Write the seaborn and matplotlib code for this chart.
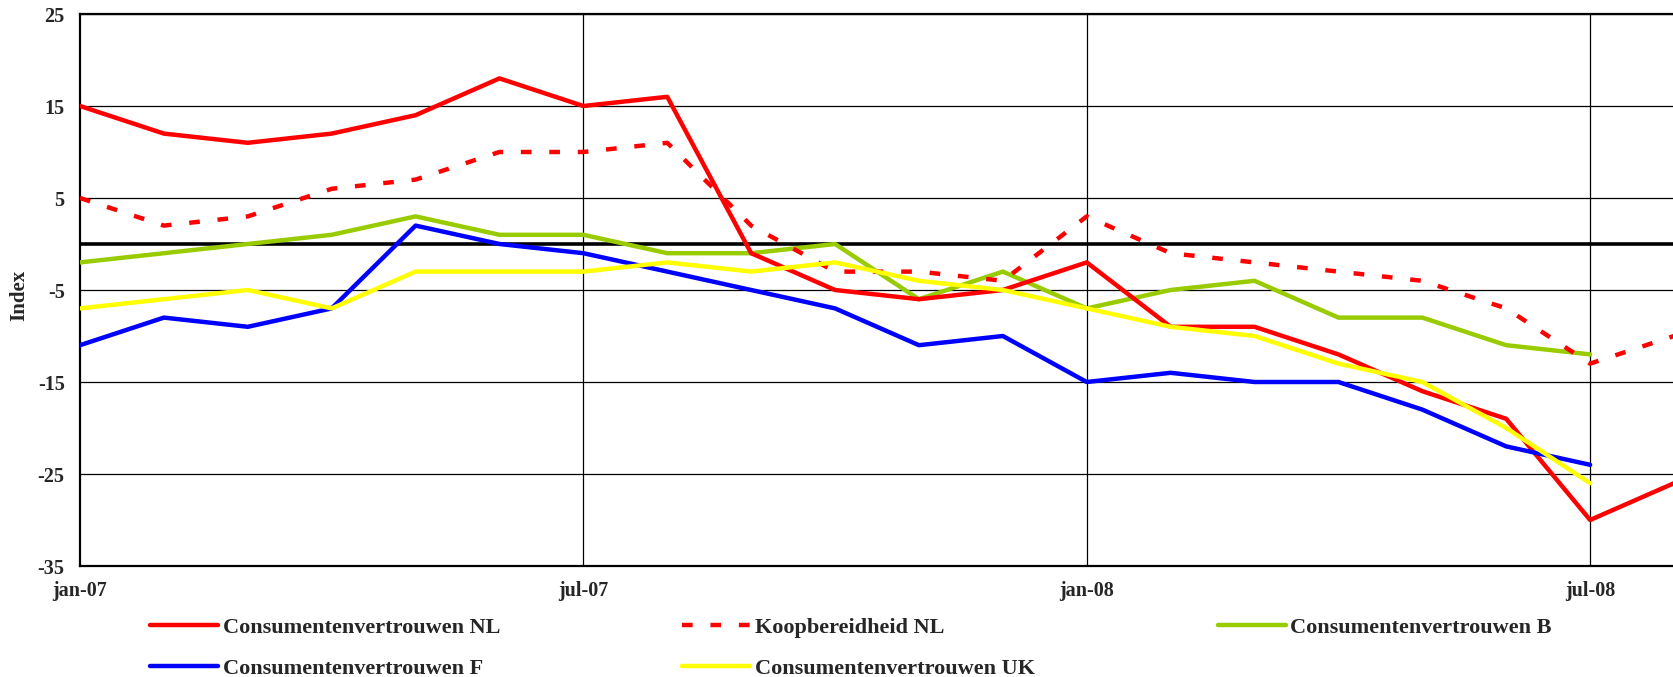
import numpy as np
import pandas as pd
import matplotlib
matplotlib.use("Agg")
import matplotlib.pyplot as plt
from matplotlib.font_manager import FontProperties
import seaborn as sns

# ---- data ----
months = ["jan-07", "feb-07", "mrt-07", "apr-07", "mei-07", "jun-07", "jul-07",
          "aug-07", "sep-07", "okt-07", "nov-07", "dec-07", "jan-08", "feb-08",
          "mrt-08", "apr-08", "mei-08", "jun-08", "jul-08", "aug-08"]
tick_labels = ["jan-07", "jul-07", "jan-08", "jul-08"]
y_ticks = [25, 15, 5, -5, -15, -25, -35]

cons_nl = [15, 12, 11, 12, 14, 18, 15, 16, -1, -5, -6, -5, -2, -9, -9, -12, -16, -19, -30, -26]
koop_nl = [5, 2, 3, 6, 7, 10, 10, 11, 2, -3, -3, -4, 3, -1, -2, -3, -4, -7, -13, -10]
cons_b = [-2, -1, 0, 1, 3, 1, 1, -1, -1, 0, -6, -3, -7, -5, -4, -8, -8, -11, -12]
cons_f = [-11, -8, -9, -7, 2, 0, -1, -3, -5, -7, -11, -10, -15, -14, -15, -15, -18, -22, -24]
cons_uk = [-7, -6, -5, -7, -3, -3, -3, -2, -3, -2, -4, -5, -7, -9, -10, -13, -15, -20, -26]

series = {
    "Consumentenvertrouwen NL": cons_nl,
    "Koopbereidheid NL": koop_nl,
    "Consumentenvertrouwen B": cons_b,
    "Consumentenvertrouwen F": cons_f,
    "Consumentenvertrouwen UK": cons_uk,
}
colors = {
    "Consumentenvertrouwen NL": "#FF0000",
    "Koopbereidheid NL": "#FF0000",
    "Consumentenvertrouwen B": "#99CC00",
    "Consumentenvertrouwen F": "#0000FF",
    "Consumentenvertrouwen UK": "#FFFF00",
}

rows = []
for name, vals in series.items():
    for i, v in enumerate(vals):
        rows.append({"t": i, "month": months[i], "value": v, "series": name})
df = pd.DataFrame(rows)

sns.set_theme(style="white")
plt.rcParams["font.family"] = ["Liberation Serif", "DejaVu Serif"]
plt.rcParams["font.weight"] = "bold"

fig = plt.figure(figsize=(16.74, 6.77), dpi=100)
ax = fig.add_axes([80 / 1674, 1 - 566 / 677, 1 - 80 / 1674, 552 / 677])

# grid
for yv in y_ticks:
    ax.axhline(yv, color="black", lw=0.9, zorder=1)
for xv in [6, 12, 18]:
    ax.axvline(xv, color="black", lw=0.9, zorder=1)
ax.axhline(0, color="black", lw=2.6, zorder=1.5)

draw_order = ["Consumentenvertrouwen B", "Koopbereidheid NL", "Consumentenvertrouwen NL",
              "Consumentenvertrouwen F", "Consumentenvertrouwen UK"]
for name in draw_order:
    sub = df[df["series"] == name]
    kw = {}
    if name == "Koopbereidheid NL":
        kw["linestyle"] = (0, (2.4, 4.0))
    sns.lineplot(data=sub, x="t", y="value", color=colors[name], linewidth=3.2,
                 label=name, ax=ax, zorder=3, sort=False, **kw)

ax.set_xlim(0, 19)
ax.set_ylim(-35, 25)
ax.set_yticks(y_ticks)
ax.set_yticklabels([str(v) for v in y_ticks])
ax.set_xticks([0, 6, 12, 18])
ax.set_xticklabels(tick_labels)
ax.tick_params(axis="both", length=0, labelsize=14.5)
ax.tick_params(axis="y", pad=11)
ax.tick_params(axis="x", pad=11)
for lab in ax.get_xticklabels() + ax.get_yticklabels():
    lab.set_fontweight("bold")
ax.set_xlabel("")
ax.set_ylabel("Index", fontsize=15, fontweight="bold")
ax.yaxis.set_label_coords(-51 / 1594, 0.49)

for side in ["left", "bottom", "top"]:
    ax.spines[side].set_visible(True)
    ax.spines[side].set_color("black")
    ax.spines[side].set_linewidth(1.6)
ax.spines["right"].set_visible(False)

handles, labels = ax.get_legend_handles_labels()
ax.get_legend().remove()
hmap = dict(zip(labels, handles))
order = ["Consumentenvertrouwen NL", "Consumentenvertrouwen F",
         "Koopbereidheid NL", "Consumentenvertrouwen UK",
         "Consumentenvertrouwen B"]
legfont = FontProperties(family="Liberation Serif", weight="bold", size=16)
leg = fig.legend([hmap[o] for o in order], order, loc="upper left",
                 bbox_to_anchor=(150 / 1674, 1 - 617 / 677), ncol=3, frameon=False,
                 prop=legfont,
                 handlelength=3.06, handletextpad=0.22, columnspacing=8.2,
                 labelspacing=0.95, borderpad=0, borderaxespad=0)
for txt in leg.get_texts():
    txt.set_fontweight("bold")

fig.savefig("out.png", dpi=100)
